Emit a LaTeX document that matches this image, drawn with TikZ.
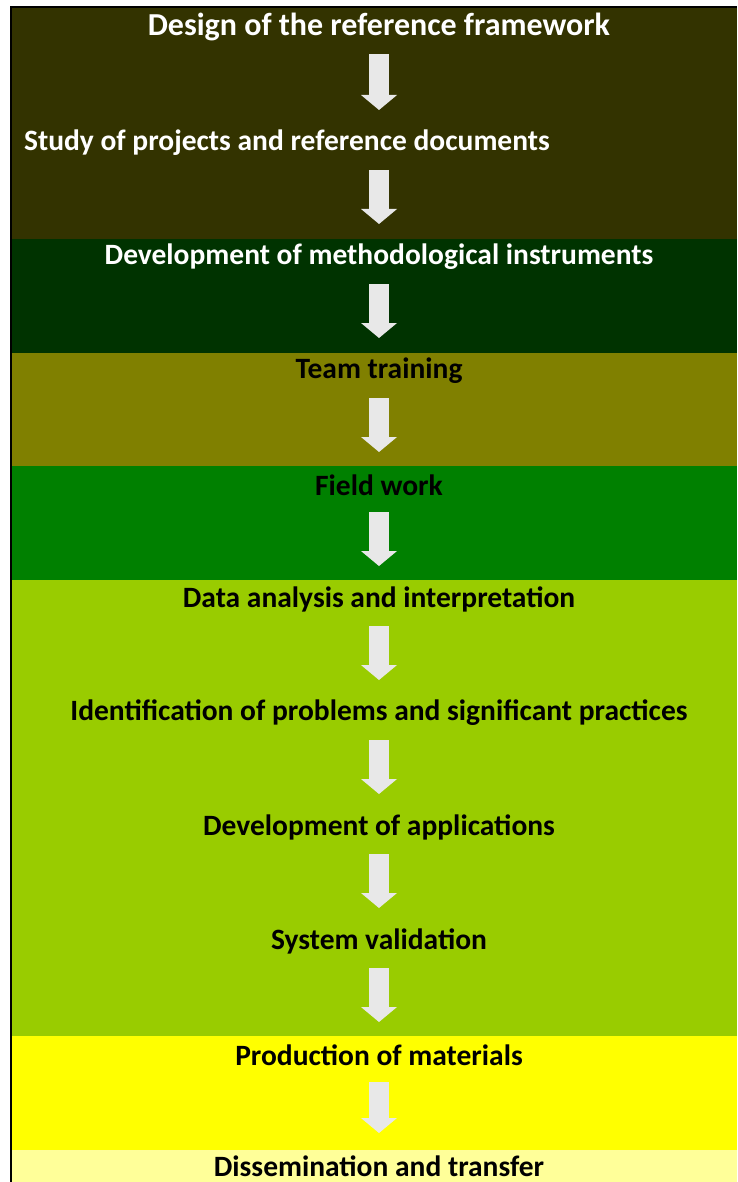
\documentclass[tikz,border=0pt]{standalone}
\usepackage{fontspec}
\setmainfont{Carlito}
\usetikzlibrary{arrows.meta}
\definecolor{bandA}{HTML}{333300}
\definecolor{bandB}{HTML}{003300}
\definecolor{bandC}{HTML}{808000}
\definecolor{bandD}{HTML}{008000}
\definecolor{bandE}{HTML}{99CC00}
\definecolor{bandF}{HTML}{FFFF00}
\definecolor{bandG}{HTML}{FFFF99}
\definecolor{arrowgray}{HTML}{E8E8E8}
\begin{document}
\begin{tikzpicture}[x=1pt,y=-1pt,
    every node/.style={inner sep=0pt,font=\bfseries\fontsize{29.5}{34}\selectfont},
    light/.style={text=white},
    big/.style={font=\bfseries\fontsize{32}{36}\selectfont},
    flow/.style={draw=arrowgray,line width=20pt,line cap=butt,
      -{Triangle[width=36pt,length=15pt,line width=0pt]},
      shorten <=27pt,shorten >=33pt}]
            \useasboundingbox (0,0) rectangle (737,1182);
            % bands
            \fill[bandA] (12,8) rectangle (737,239);
            \fill[bandB] (12,239) rectangle (737,352.5);
            \fill[bandC] (12,352.5) rectangle (737,466);
            \fill[bandD] (12,466) rectangle (737,580);
            \fill[bandE] (12,580) rectangle (737,1036);
            \fill[bandF] (12,1036) rectangle (737,1150);
            \fill[bandG] (12,1150) rectangle (737,1182);
            \draw[line width=2pt] (11,1182) -- (11,7) -- (737,7);
            \coordinate (ax) at (379,0);
            \node[light,big] (design) at (379,27) {Design of the reference framework};
            \node[light] (study) at (287,143) {Study of projects and reference documents};
            \node[light] (instr) at (379,257) {Development of methodological instruments};
            \node (training) at (379,371) {Team training};
            \node (field) at (379,485) {Field work};
            \node (analysis) at (379,599) {Data analysis and interpretation};
            \node (problems) at (379,713) {Identification of problems and significant practices};
            \node (apps) at (379,827) {Development of applications};
            \node (valid) at (379,941) {System validation};
            \node (prod) at (379,1055) {Production of materials};
            \node (dissem) at (379,1166) {Dissemination and transfer};
            \draw [flow] (design.center) -- (ax |- study.center);
            \draw [flow] (ax |- study.center) -- (instr.center);
            \draw [flow] (instr.center) -- (training.center);
            \draw [flow] (training.center) -- (field.center);
            \draw [flow] (field.center) -- (analysis.center);
            \draw [flow] (analysis.center) -- (problems.center);
            \draw [flow] (problems.center) -- (apps.center);
            \draw [flow] (apps.center) -- (valid.center);
            \draw [flow] (valid.center) -- (prod.center);
            \draw [flow] (prod.center) -- (dissem.center);
        \end{tikzpicture}
\end{document}
